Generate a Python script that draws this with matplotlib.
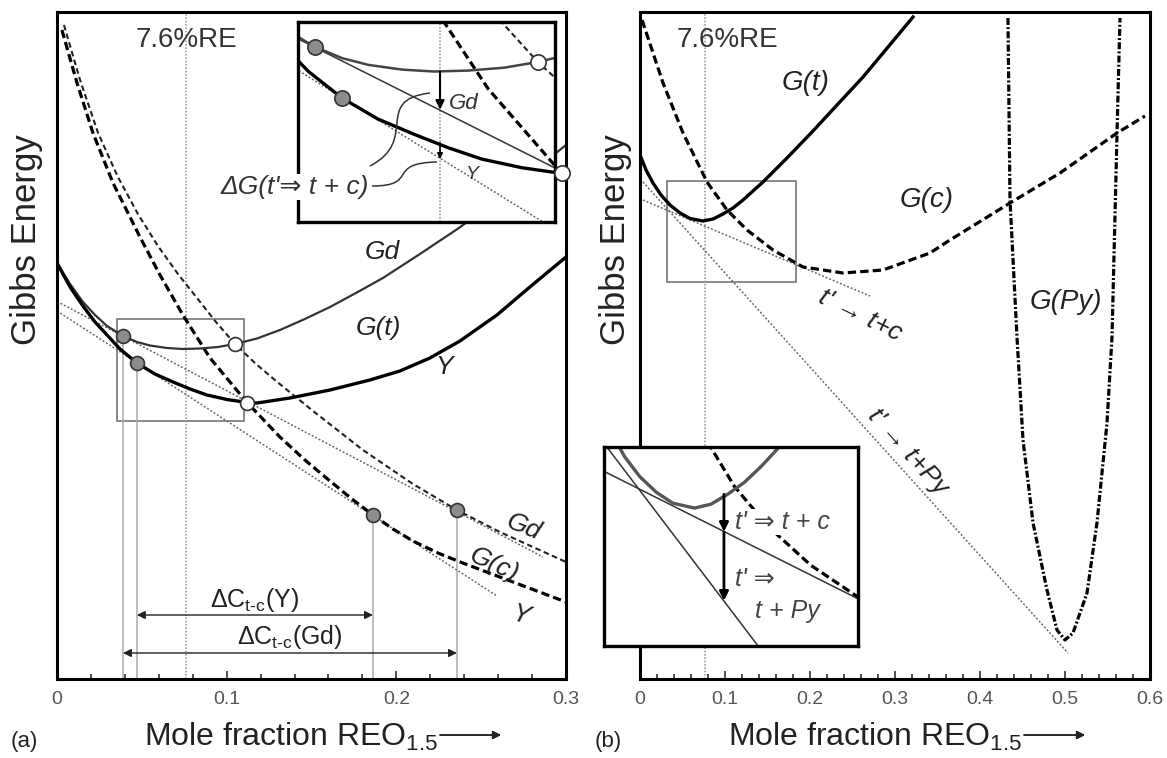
import matplotlib.pyplot as plt
from matplotlib.path import Path
from matplotlib.patches import PathPatch, Rectangle
from matplotlib.ticker import MultipleLocator

plt.rcParams['font.family'] = ['Liberation Sans', 'DejaVu Sans']
plt.rcParams['mathtext.fontset'] = 'custom'
plt.rcParams['mathtext.rm'] = 'Liberation Sans'
plt.rcParams['mathtext.it'] = 'Liberation Sans:italic'
plt.rcParams['lines.scale_dashes'] = False

W, H = 1167, 758

# ---------------- panel (a): Gibbs energy (arb. units) vs mole fraction
comp = 0.076  # 7.6 % RE

a_gt_gd_x = [0.0, 0.0077, 0.0153, 0.0224, 0.0295, 0.0389, 0.0471, 0.0548, 0.0648, 0.0742, 0.0843, 0.0949,
             0.1049, 0.1179, 0.1314, 0.1461, 0.1609, 0.1762, 0.1921, 0.2139, 0.2369, 0.2552, 0.2699, 0.2846, 0.3]
a_gt_gd_g = [416, 395, 377, 364, 353, 343, 337, 333.5, 331, 330, 330.5, 332,
             335, 340.5, 349, 360, 372, 386, 401, 425, 451, 474, 493, 513, 534]

a_gt_y_x = [0.0, 0.0077, 0.0153, 0.0224, 0.0295, 0.0371, 0.0471, 0.0577, 0.0684, 0.0784, 0.0884, 0.1002,
            0.1120, 0.1179, 0.1373, 0.1609, 0.1844, 0.2021, 0.2198, 0.2375, 0.2593, 0.2787, 0.3]
a_gt_y_g = [416, 392, 373, 357, 344, 330, 316, 305, 297, 290, 284, 279.5,
            276.5, 276, 281, 289, 299, 308, 321, 338, 364, 392, 422]

a_gc_y_x = [0.0029, 0.0118, 0.0212, 0.0330, 0.0489, 0.0607, 0.0742, 0.0902, 0.1120, 0.1314, 0.1461, 0.1609,
            0.1738, 0.1862, 0.1980, 0.2098, 0.2245, 0.2392, 0.2610, 0.3]
a_gc_y_g = [649, 596, 546, 496, 442, 404, 364, 321, 276.5, 242, 219, 198,
            180, 164, 150, 138, 126, 116, 102, 77]

a_gc_gd_x = [0.0041, 0.0136, 0.0242, 0.0359, 0.0477, 0.0595, 0.0713, 0.0825, 0.0937, 0.1049, 0.1173, 0.1291,
             0.1509, 0.1803, 0.2098, 0.2357, 0.2610, 0.3]
a_gc_gd_g = [654, 599, 546, 502, 465, 433, 405, 381, 357, 335, 315, 298,
             268, 229, 195, 169, 147, 117]

a_tan_gd_x = [0.0, 0.2864]
a_tan_gd_g = [377.5, 122]
a_tan_y_x = [0.0, 0.2593]
a_tan_y_g = [368, 83]

a_dot_x = [0.0389, 0.0471, 0.1862, 0.2357]
a_dot_g = [343, 316, 164, 169]
a_open_x = [0.1049, 0.1120]
a_open_g = [335, 276.5]

a_dc_y = (0.0471, 0.1862, 64)     # x from, x to, level
a_dc_gd = (0.0389, 0.2357, 26)

a_ticks = [0, 0.1, 0.2, 0.3]
a_tick_labels = ['0', '0.1', '0.2', '0.3']

# ---------------- panel (b)
b_gt_x = [0.0, 0.0071, 0.0153, 0.0247, 0.0353, 0.0471, 0.0588, 0.0741, 0.0859, 0.0976, 0.1094, 0.1212,
          0.1329, 0.1447, 0.1741, 0.2035, 0.2329, 0.2624, 0.2918, 0.3212]
b_gt_g = [524, 509, 496, 484, 474, 466, 460.5, 458, 460, 465, 471, 479,
          488, 497, 522, 548, 575, 602, 632, 662]

b_gc_x = [0.0024, 0.0271, 0.0506, 0.0788, 0.1024, 0.1259, 0.1565, 0.1918, 0.2388, 0.2859, 0.3412, 0.3647,
          0.4353, 0.4941, 0.5612, 0.5941]
b_gc_g = [659, 596, 546, 497, 469, 449, 429, 412, 406, 409, 426, 439,
          476, 506, 546, 563]

b_py_x = [0.4329, 0.4353, 0.4435, 0.4506, 0.4624, 0.4788, 0.4906, 0.5, 0.5094, 0.5259, 0.5376, 0.5494,
          0.5553, 0.5612, 0.5647]
b_py_g = [661, 479, 342, 239, 156, 89, 49, 39, 46, 86, 156, 256,
          342, 546, 661]

b_tan_c_x = [0.0035, 0.2706]
b_tan_c_g = [479, 383]
b_tan_py_x = [0.0035, 0.5035]
b_tan_py_g = [497, 26]

b_ticks = [0, 0.1, 0.2, 0.3, 0.4, 0.5, 0.6]
b_tick_labels = ['0', '0.1', '0.2', '0.3', '0.4', '0.5', '0.6']

# zoom windows (x0, x1, g0, g1)
a_box = (0.0354, 0.1102, 258, 360)
a_zoom = (0.034, 0.110, 251, 356)
b_box = (0.0318, 0.1835, 397, 498)
b_zoom = (0.010, 0.190, 388, 489)


def rect(l, t, r, b):
    # pixel box (left, top, right, bottom) -> figure fraction
    return [l / W, 1 - b / H, (r - l) / W, (b - t) / H]


def fx(px):
    return px / W


def fy(py):
    return 1 - py / H


fig = plt.figure(figsize=(W / 100, H / 100), dpi=100)
ax_a = fig.add_axes(rect(57, 12, 566, 679))
ax_b = fig.add_axes(rect(640, 12, 1150, 679))

for ax, ticks, labels in ((ax_a, a_ticks, a_tick_labels), (ax_b, b_ticks, b_tick_labels)):
    ax.set_xlim(ticks[0], ticks[-1])
    ax.set_ylim(0, 667)
    ax.set_yticks([])
    ax.set_xticks(ticks)
    ax.set_xticklabels(labels)
    ax.xaxis.set_minor_locator(MultipleLocator(0.02))
    ax.tick_params(axis='x', which='both', direction='in', labelsize=14,
                   labelcolor='#555', pad=9, width=1.1, color='#222')
    ax.tick_params(axis='x', which='major', length=6)
    ax.tick_params(axis='x', which='minor', length=3.5)
    for s in ax.spines.values():
        s.set_linewidth(2.2)

dotted = dict(color='#666', lw=1.1, dashes=(1.4, 1.4))
ital = dict(style='italic', fontsize=19, ha='center', va='center', color='#222')

# ---- panel (a) main
ax_a.axvline(comp, color='#999', lw=1.1, dashes=(1.2, 1.2))
ax_a.vlines(a_dot_x, 0, a_dot_g, color='#aaa', lw=1.1)
ax_a.plot(a_tan_gd_x, a_tan_gd_g, **dotted)
ax_a.plot(a_tan_y_x, a_tan_y_g, **dotted)
ax_a.plot(a_gc_gd_x, a_gc_gd_g, color='#222', lw=1.5, dashes=(4, 2.5))
ax_a.plot(a_gc_y_x, a_gc_y_g, color='k', lw=2.3, dashes=(6, 3))
ax_a.plot(a_gt_gd_x, a_gt_gd_g, color='#333', lw=1.6)
ax_a.plot(a_gt_y_x, a_gt_y_g, color='k', lw=2.4)
ax_a.plot(a_dot_x, a_dot_g, 'o', ms=10, mfc='#8c8c8c', mec='#333', mew=1.2, zorder=5)
ax_a.plot(a_open_x, a_open_g, 'o', ms=10, mfc='white', mec='#333', mew=1.2, zorder=5)
ax_a.add_patch(Rectangle((a_box[0], a_box[2]), a_box[1] - a_box[0], a_box[3] - a_box[2],
                         fill=False, ec='#777', lw=1.2))

for (x0, x1, lev), lab, ly in ((a_dc_y, 'ΔC$_{\\rm t\u2010c}$(Y)', 79),
                               (a_dc_gd, 'ΔC$_{\\rm t\u2010c}$(Gd)', 42)):
    ax_a.annotate('', xy=(x1, lev), xytext=(x0, lev),
                  arrowprops=dict(arrowstyle='<|-|>', color='#222', lw=1.0,
                                  mutation_scale=12, shrinkA=0, shrinkB=0))
    ax_a.text((x0 + x1) / 2, ly, lab, ha='center', va='center', fontsize=18, color='#222')

ax_a.text(comp, 639, '7.6%RE', ha='center', va='center', fontsize=20, color='#333')
ax_a.text(0.192, 427, 'Gd', **ital)
ax_a.text(0.1897, 351, 'G(t)', **ital)
ax_a.text(0.228, 312, 'Y', **ital)
ax_a.text(0.2752, 152, 'Gd', rotation=-22, **ital)
ax_a.text(0.2575, 114, 'G(c)', rotation=-25, **ital)
ax_a.text(0.2734, 63, 'Y', rotation=-15, **ital)

# ---- panel (b) main
ax_b.axvline(comp, color='#999', lw=1.1, dashes=(1.2, 1.2))
ax_b.plot(b_tan_c_x, b_tan_c_g, **dotted)
ax_b.plot(b_tan_py_x, b_tan_py_g, **dotted)
ax_b.plot(b_gc_x, b_gc_g, color='k', lw=2.3, dashes=(6, 3))
ax_b.plot(b_py_x, b_py_g, color='k', lw=2.3, dashes=(5, 1.6, 1.4, 1.6))
ax_b.plot(b_gt_x, b_gt_g, color='k', lw=2.4)
ax_b.add_patch(Rectangle((b_box[0], b_box[2]), b_box[1] - b_box[0], b_box[3] - b_box[2],
                         fill=False, ec='#777', lw=1.2))
ax_b.text(0.1024, 639, '7.6%RE', ha='center', va='center', fontsize=20, color='#333')
ax_b.text(0.1953, 596, 'G(t)', **dict(ital, fontsize=20))
ax_b.text(0.3376, 479, 'G(c)', **dict(ital, fontsize=20))
ax_b.text(0.5012, 377, 'G(Py)', **dict(ital, fontsize=20))
ax_b.text(0.2588, 364, "t' → t+c", rotation=-26, rotation_mode='anchor', **ital)
ax_b.text(0.3153, 227, "t' → t+Py", rotation=-48, rotation_mode='anchor', **ital)

# ---- inset (a)
ia = fig.add_axes(rect(298, 22, 555, 222))
ia.set_xlim(a_zoom[0], a_zoom[1])
ia.set_ylim(a_zoom[2], a_zoom[3])
ia.set_xticks([])
ia.set_yticks([])
for s in ia.spines.values():
    s.set_linewidth(2.4)
ia.axvline(comp, color='#999', lw=1.1, dashes=(1.2, 1.2))
ia.plot(a_tan_y_x, a_tan_y_g, **dotted)
ia.plot(a_tan_gd_x, a_tan_gd_g, color='#333', lw=1.1)
ia.plot(a_gc_gd_x, a_gc_gd_g, color='#222', lw=1.5, dashes=(4, 2.5))
ia.plot(a_gc_y_x, a_gc_y_g, color='k', lw=2.3, dashes=(6, 3))
ia.plot(a_gt_gd_x, a_gt_gd_g, color='#444', lw=1.8)
ia.plot(a_gt_y_x, a_gt_y_g, color='k', lw=2.4)
ia.plot(a_dot_x[:2], a_dot_g[:2], 'o', ms=11, mfc='#8c8c8c', mec='#333', mew=1.2, zorder=5)
ia.plot(a_open_x, a_open_g, 'o', ms=11, mfc='white', mec='#333', mew=1.2, zorder=5, clip_on=False)
arr = dict(arrowstyle='-|>', color='k', lw=1.5, mutation_scale=13, shrinkA=0, shrinkB=0)
ia.annotate('', xy=(comp, 310), xytext=(comp, 330), arrowprops=arr)
ia.annotate('', xy=(comp, 284), xytext=(comp, 292.5),
            arrowprops=dict(arr, mutation_scale=8, lw=1.2))
ia.text(0.0829, 313, 'Gd', style='italic', fontsize=16, ha='center', va='center', color='#333')
ia.text(0.0855, 276, 'Y', style='italic', fontsize=14, ha='center', va='center', color='#333')

# leader lines of the ΔG label (figure pixels)
lead_up = [(370, 166), (420, 140), (372, 100), (430, 93)]
lead_lo = [(372, 186), (420, 186), (385, 163), (437, 162)]
for pts in (lead_up, lead_lo):
    path = Path([(fx(x), fy(y)) for x, y in pts],
                [Path.MOVETO, Path.CURVE4, Path.CURVE4, Path.CURVE4])
    fig.add_artist(PathPatch(path, fc='none', ec='#333', lw=1.1, transform=fig.transFigure))
fig.text(fx(369), fy(187), "ΔG(t'⇒ t + c)", ha='right', va='center', fontsize=19,
         style='italic', color='#333', bbox=dict(fc='white', ec='none', pad=1))

# ---- inset (b)
ib = fig.add_axes(rect(604, 447, 858, 646))
ib.set_xlim(b_zoom[0], b_zoom[1])
ib.set_ylim(b_zoom[2], b_zoom[3])
ib.set_xticks([])
ib.set_yticks([])
for s in ib.spines.values():
    s.set_linewidth(2.4)
ib.plot(b_tan_c_x, b_tan_c_g, color='#333', lw=1.1)
ib.plot(b_tan_py_x, b_tan_py_g, color='#333', lw=1.1)
ib.plot(b_gc_x, b_gc_g, color='k', lw=2.3, dashes=(6, 3))
ib.plot(b_gt_x, b_gt_g, color='#555', lw=2.4)
ib.annotate('', xy=(0.095, 446), xytext=(0.095, 465), arrowprops=dict(arr, lw=2))
ib.annotate('', xy=(0.095, 411), xytext=(0.095, 446), arrowprops=dict(arr, lw=2))
ib.text(0.1027, 451, "t' ⇒ t + c", style='italic', fontsize=18, ha='left', va='center',
        color='#444', bbox=dict(fc='white', ec='none', pad=0.5))
ib.text(0.1027, 422, "t' ⇒", style='italic', fontsize=18, ha='left', va='center', color='#444')
ib.text(0.117, 406, 't + Py', style='italic', fontsize=18, ha='left', va='center', color='#444')

# ---- axis titles
for px in (27, 616):
    fig.text(fx(px), fy(240), 'Gibbs Energy', rotation=90, ha='center', va='center',
             fontsize=25, color='#222')
for px0, px1, px2 in ((144, 440, 501), (728, 1024, 1085)):
    fig.text(fx(px0), fy(746), 'Mole fraction REO$_{1.5}$', ha='left', va='baseline',
             fontsize=23, color='#222')
    fig.add_artist(plt.annotate('', xy=(fx(px2), fy(735)), xytext=(fx(px1), fy(735)),
                                xycoords='figure fraction', textcoords='figure fraction',
                                arrowprops=dict(arrowstyle='-|>', color='#222', lw=1.1,
                                                mutation_scale=12, shrinkA=0, shrinkB=0)))
fig.text(fx(24), fy(742), '(a)', ha='center', va='center', fontsize=16, color='#222')
fig.text(fx(608), fy(742), '(b)', ha='center', va='center', fontsize=16, color='#222')

fig.savefig('out.png', dpi=100)
